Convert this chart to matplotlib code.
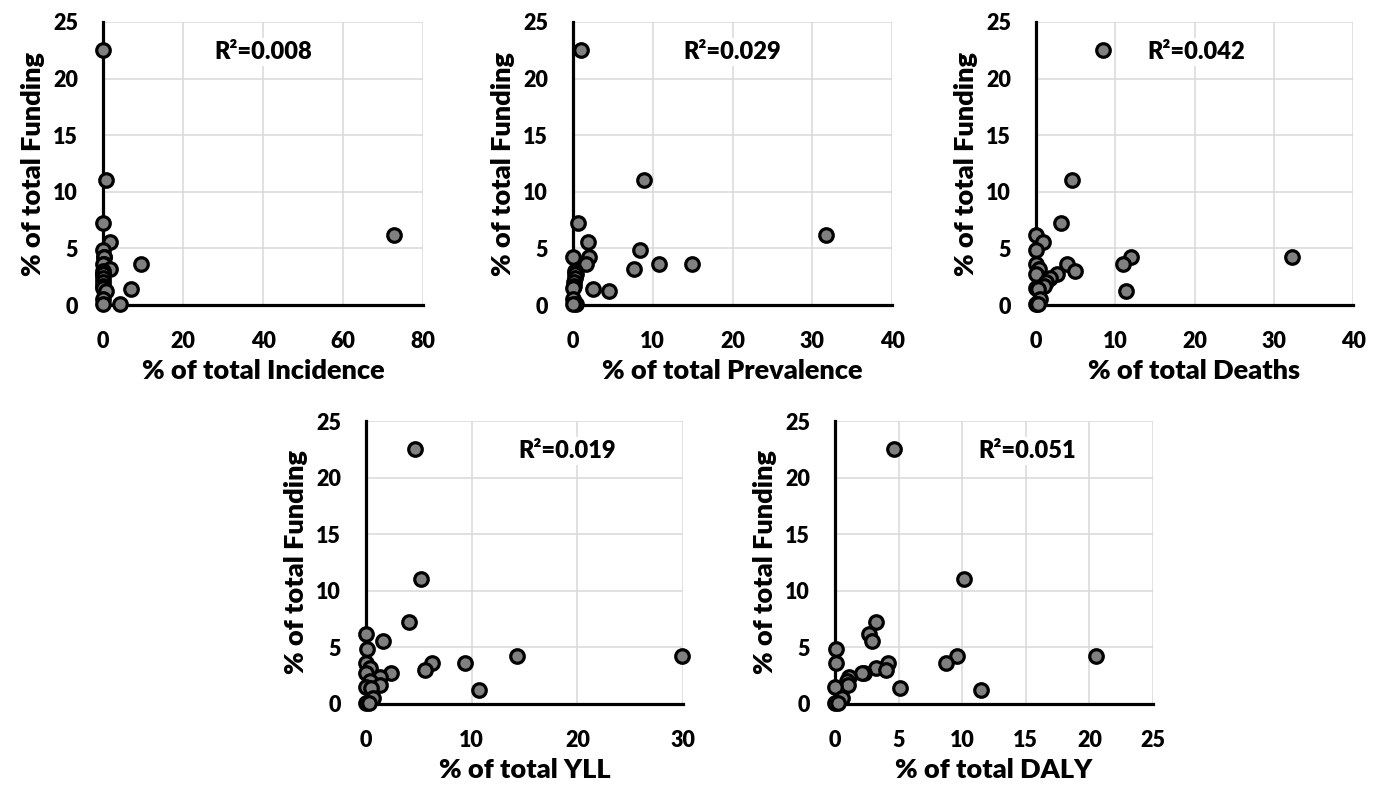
import numpy as np
import matplotlib.pyplot as plt

plt.rcParams['font.family'] = ['Lato', 'DejaVu Sans']
plt.rcParams['font.weight'] = 'bold'

# % of total funding per disease (same for every panel)
funding = [22.5, 11.0, 7.2, 6.2, 5.6, 4.9, 4.25, 4.25, 3.6, 3.6, 3.6, 3.15,
           3.0, 2.7, 2.7, 2.35, 2.0, 1.7, 1.5, 1.4, 1.2, 0.5, 0.1, 0.05]

incidence = [0.0, 0.8, 0.0, 72.7, 1.7, 0.0, 0.2, 0.2, 9.5, 0.2, 0.0, 1.8,
             0.1, 0.0, 0.0, 0.0, 0.0, 0.0, 0.0, 7.1, 0.8, 0.0, 4.2, 0.0]
prevalence = [1.05, 8.9, 0.6, 31.7, 1.9, 8.4, 0.0, 2.0, 1.6, 10.8, 14.9, 7.7,
              0.2, 0.4, 0.3, 0.2, 0.1, 0.1, 0.0, 2.5, 4.5, 0.0, 0.4, 0.0]
deaths = [8.4, 4.5, 3.15, 0.0, 0.85, 0.0, 12.0, 32.3, 3.95, 11.0, 0.0, 0.4,
          4.9, 2.7, 0.0, 1.76, 1.3, 1.05, 0.0, 0.3, 11.3, 0.5, 0.0, 0.3]
yll = [4.65, 5.2, 4.1, 0.0, 1.6, 0.1, 14.25, 29.9, 6.2, 9.4, 0.0, 0.4,
       5.6, 2.4, 0.0, 1.35, 0.4, 1.35, 0.0, 0.5, 10.7, 0.66, 0.0, 0.25]
daly = [4.66, 10.16, 3.22, 2.7, 2.88, 0.05, 9.6, 20.5, 4.19, 8.72, 0.08, 3.22,
        4.0, 2.3, 2.09, 1.13, 0.92, 1.05, 0.0, 5.1, 11.47, 0.52, 0.0, 0.26]

xlabels = ['% of total Incidence', '% of total Prevalence', '% of total Deaths',
           '% of total YLL', '% of total DALY']
r2 = ['0.008', '0.029', '0.042', '0.019', '0.051']
xmax = [80, 40, 40, 30, 25]
xstep = [20, 10, 10, 10, 5]
series = [incidence, prevalence, deaths, yll, daly]

fig = plt.figure(figsize=(13.8, 7.85), dpi=100)
W, H = 1380, 785
# axes boxes in pixels: left, right, top, bottom
boxes = [(103, 423, 22, 305), (573, 892, 22, 305), (1036, 1353, 22, 305),
         (366, 683, 421, 704), (835, 1153, 421, 704)]
r2pos = [0.5, 0.5, 0.505, 0.634, 0.603]
wt = 'heavy'

for i, (l, r, t, b) in enumerate(boxes):
    ax = fig.add_axes([l / W, 1 - b / H, (r - l) / W, (b - t) / H])
    ax.scatter(series[i], funding, s=95, c='#808080', edgecolors='black',
               linewidths=2.3, zorder=5, clip_on=False)
    ax.set_xlim(0, xmax[i])
    ax.set_ylim(0, 25)
    ax.set_xticks(np.arange(0, xmax[i] + 1, xstep[i]))
    ax.set_yticks(np.arange(0, 26, 5))
    ax.grid(True, color='#d9d9d9', linewidth=1.1, zorder=0)
    ax.set_axisbelow(True)
    for s in ['top', 'right']:
        ax.spines[s].set_visible(False)
    for s in ['left', 'bottom']:
        ax.spines[s].set_linewidth(2.3)
        ax.spines[s].set_zorder(3)
    ax.tick_params(length=0, labelsize=15.5, pad=19)
    ax.tick_params(axis='y', pad=18)
    for lab in ax.get_xticklabels() + ax.get_yticklabels():
        lab.set_fontweight(wt)
    ax.set_xlabel(xlabels[i], fontsize=19.5, fontweight=wt, labelpad=5)
    ax.set_ylabel('% of total Funding', fontsize=19.5, fontweight=wt, labelpad=6)
    ax.text(r2pos[i], 0.895, 'R²=' + r2[i], transform=ax.transAxes,
            ha='center', va='center', fontsize=17, fontweight=wt,
            bbox=dict(facecolor='white', edgecolor='none', pad=2), zorder=4)

plt.savefig('out.png', dpi=100)
